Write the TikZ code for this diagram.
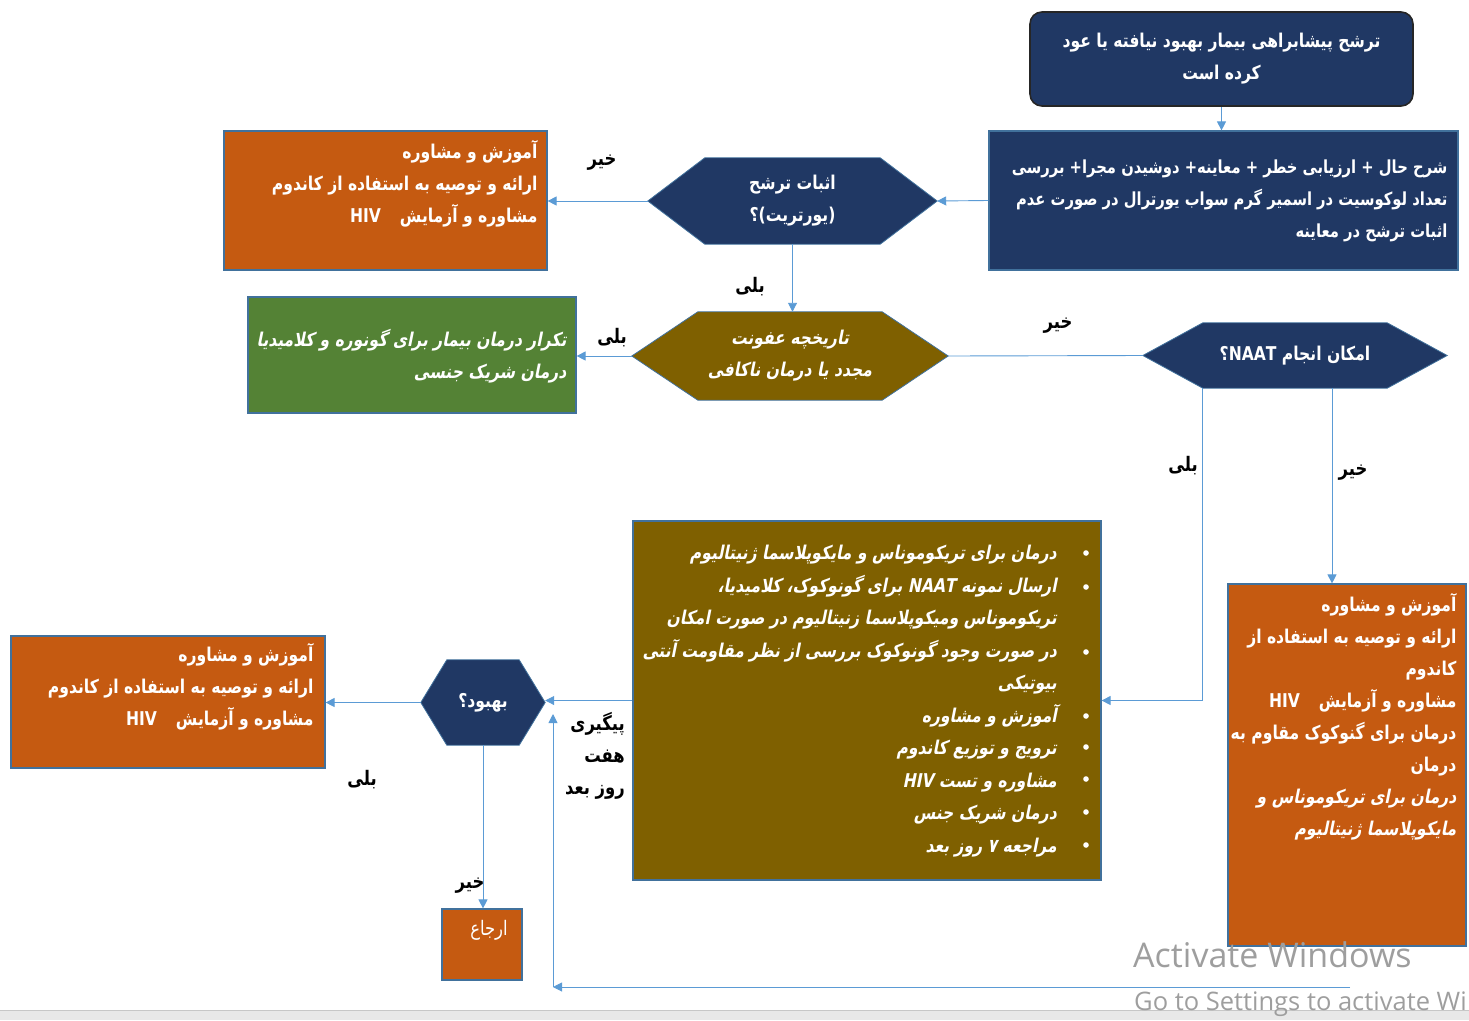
\documentclass[tikz,border=0pt]{standalone}
\usepackage{fontspec}
\usepackage{tikz}
\usetikzlibrary{positioning,calc,arrows.meta,backgrounds}
\TeXXeTstate=1
\newfontfamily\fafont[Script=Arabic,FakeStretch=0.82]{DejaVu Sans}
\newfontfamily\faslant[Script=Arabic,FakeStretch=0.82,FakeSlant=0.2]{DejaVu Sans}
\newfontfamily\wmfont{Open Sans}
\newcommand{\fa}[1]{\beginR #1\endR}
\newcommand{\lat}[1]{\beginL #1\endL{}}

\definecolor{navy}{RGB}{32,56,100}
\definecolor{rust}{RGB}{197,90,17}
\definecolor{olive}{RGB}{127,96,0}
\definecolor{leaf}{RGB}{84,130,53}
\definecolor{bordblue}{RGB}{65,113,156}
\definecolor{linkblue}{RGB}{91,155,213}

% شش‌ضلعی پشت گره (نام، عرض نوک، رنگ)
\newcommand{\hexback}[3]{%
  \filldraw[fill=#3,draw=bordblue,line width=0.8pt] (#1.west) -- ([xshift=#2]#1.north west) -- ([xshift=-#2]#1.north east)
    -- (#1.east) -- ([xshift=-#2]#1.south east) -- ([xshift=#2]#1.south west) -- cycle;}

\tikzset{
  box/.style={draw=bordblue, line width=1.2pt, inner sep=0pt},
  navybox/.style={box, fill=navy},
  rustbox/.style={box, fill=rust},
  olivebox/.style={box, fill=olive},
  leafbox/.style={box, fill=leaf},
  hexnode/.style={inner sep=0pt, text=white, align=center,
    font={\fafont\bfseries\fontsize{19}{32}\selectfont}},
  boxtext/.style={inner sep=0pt, text=white, align=right,
    font={\fafont\bfseries\fontsize{19}{32}\selectfont}},
  slanttext/.style={boxtext, font={\faslant\bfseries\fontsize{19}{32.5}\selectfont}},
  lbl/.style={inner sep=0pt, align=right, font={\fafont\bfseries\fontsize{20}{32}\selectfont}},
  arr/.style={draw=linkblue, line width=0.9pt, -{Triangle[length=9pt,width=9pt]}},
  link/.style={draw=linkblue, line width=0.9pt},
}

\begin{document}
\begin{tikzpicture}[x=1pt,y=-1pt]
  \useasboundingbox (0,0) rectangle (1469,1020);

  % جعبه‌ها
  \node[navybox, draw=black!85, line width=1.6pt, rounded corners=12pt, minimum width=383, minimum height=94,
        text=white, align=center, font={\fafont\bfseries\fontsize{19}{32}\selectfont}] (top) at (1221.5,59)
        {\fa{ترشح پیشابراهی  بیمار بهبود نیافته یا عود}\\ \fa{کرده است}};
  \node[navybox, minimum width=469, minimum height=139] (hist) at (1223.5,200.5) {};
  \node[boxtext, font={\fafont\bfseries\fontsize{18}{32}\selectfont}, anchor=east] at ([xshift=-11]hist.east)
        {\fa{شرح حال + ارزیابی خطر + معاینه+ دوشیدن مجرا+ بررسی}\\
         \fa{تعداد لوکوسیت در اسمیر گرم سواب یورترال در صورت عدم}\\
         \fa{اثبات ترشح در معاینه}};

  \node[hexnode, minimum width=289, minimum height=86] (urt) at (792.5,201)
        {\fa{اثبات ترشح}\\ \fa{(یورتریت)؟}};
  \node[rustbox, minimum width=323, minimum height=139] (edu1) at (385.5,200.5) {};
  \node[boxtext, anchor=north east] at ([shift={(-10,10)}]edu1.north east)
        {\fa{آموزش و مشاوره}\\ \fa{ارائه و توصیه به استفاده از کاندوم}\\ \fa{مشاوره و آزمایش\quad \lat{HIV}}};

  \node[hexnode, font={\faslant\bfseries\fontsize{19}{32}\selectfont}, minimum width=316, minimum height=88] (reinf) at (790,356)
        {\fa{تاریخچه عفونت}\\ \fa{مجدد یا درمان ناکافی}};
  \node[leafbox, minimum width=328, minimum height=116] (repeat) at (412,355) {};
  \node[slanttext, anchor=east] at ([shift={(-10,1)}]repeat.east)
        {\fa{تکرار درمان بیمار برای گونوره و کلامیدیا}\\ \fa{درمان شریک جنسی}};

  \node[hexnode, minimum width=304, minimum height=65] (naat) at (1295,355.5)
        {\fa{امکان انجام \lat{NAAT}؟}};

  \node[olivebox, minimum width=468, minimum height=359] (plan) at (867,700.5) {};
  \node[slanttext, anchor=north east] at (1057,545)
        {\fa{درمان برای تریکوموناس و مایکوپلاسما ژنیتالیوم}\\
         \fa{ارسال نمونه \lat{NAAT} برای گونوکوک، کلامیدیا،}\\
         \fa{تریکوموناس ومیکوپلاسما زنیتالیوم در صورت امکان}\\
         \fa{در صورت وجود گونوکوک بررسی از نظر مقاومت آنتی}\\
         \fa{بیوتیکی}\\
         \fa{آموزش و مشاوره}\\
         \fa{ترویج و توزیع کاندوم}\\
         \fa{مشاوره و تست \lat{HIV}}\\
         \fa{درمان شریک جنس}\\
         \fa{مراجعه ۷ روز بعد}};
  \foreach \by in {553,587,652,716,747,779,812,845} {
    \fill[white] (1086,\by) circle (2.8);
  }

  \node[rustbox, minimum width=238, minimum height=362] (eduR) at (1347,765) {};
  \node[boxtext, anchor=north east] at ([shift={(-10,10)}]eduR.north east)
        {\fa{آموزش و مشاوره}\\ \fa{ارائه و توصیه به استفاده از}\\ \fa{کاندوم}\\
         \fa{مشاوره و آزمایش\quad \lat{HIV}}\\ \fa{درمان برای گنوکوک مقاوم به}\\ \fa{درمان}\\
         {\faslant\fa{درمان برای تریکوموناس و}}\\ {\faslant\fa{مایکوپلاسما ژنیتالیوم}}};

  \node[hexnode, minimum width=124, minimum height=85] (better) at (483,702.5) {\fa{بهبود؟}};
  \node[rustbox, minimum width=314, minimum height=132] (eduL) at (168,702) {};
  \node[boxtext, anchor=north east] at ([shift={(-12,8)}]eduL.north east)
        {\fa{آموزش و مشاوره}\\ \fa{ارائه و توصیه به استفاده از کاندوم}\\ \fa{مشاوره و آزمایش\quad \lat{HIV}}};

  \node[rustbox, minimum width=80, minimum height=71] (refer) at (482,944.5) {};
  \node[boxtext, font={\fafont\fontsize{20}{32}\selectfont}] at (489,930) {\fa{ارجاع}};

  % شش‌ضلعی‌ها
  \begin{scope}[on background layer]
    \hexback{urt}{57pt}{navy}
    \hexback{reinf}{66pt}{olive}
    \hexback{naat}{60pt}{navy}
    \hexback{better}{26pt}{navy}
  \end{scope}

  % پیکان‌ها
  \draw[arr] (top.south) -- (top.south |- hist.north);
  \draw[arr] (hist.west) -- (urt.east);
  \draw[arr] (urt.west) -- (urt.west -| edu1.east);
  \draw[arr] (urt.south) -- (urt.south |- reinf.north);
  \draw[arr] (reinf.west) -- (reinf.west -| repeat.east);
  \draw[link] (naat.west) -- (reinf.east);
  \coordinate (naatA) at ([xshift=-93]naat.south);
  \coordinate (naatB) at ([xshift=37]naat.south);
  \draw[arr] (naatA) -- (naatA |- plan.east) -- (plan.east);
  \draw[arr] (naatB) -- (naatB |- eduR.north);
  \draw[arr] (plan.west) -- (plan.west -| better.east);
  \draw[arr] (better.west) -- (better.west -| eduL.east);
  \draw[arr] (better.south) -- (better.south |- refer.north);
  \coordinate (fuEnd) at (1350,987);
  \coordinate (fuCorner) at (553,987);
  \coordinate (fuTop) at (553,714);
  \draw[arr] (fuEnd) -- (fuCorner);
  \draw[arr] (fuCorner) -- (fuTop);

  % برچسب‌ها
  \node[lbl] at (602,163) {\fa{خیر}};
  \node[lbl] at (750,287) {\fa{بلی}};
  \node[lbl] at (612,338) {\fa{بلی}};
  \node[lbl] at (1058,326) {\fa{خیر}};
  \node[lbl] at (1183,466) {\fa{بلی}};
  \node[lbl] at (1353,473) {\fa{خیر}};
  \node[lbl, anchor=north east] at (625,712) {\fa{پیگیری}\\ \fa{هفت}\\ \fa{روز بعد}};
  \node[lbl] at (362,780) {\fa{بلی}};
  \node[lbl] at (470,886) {\fa{خیر}};

  % نوار پایین و واترمارک
  \fill[black!9] (0,1010) rectangle (1469,1020);
  \draw[black!22] (0,1010) -- (1469,1010);
  \node[anchor=west, inner sep=0pt, text=black!38, font={\wmfont\fontsize{34}{34}\selectfont}] at (1133,955) {Activate Windows};
  \node[anchor=west, inner sep=0pt, text=black!38, font={\wmfont\fontsize{25.5}{25.5}\selectfont}] at (1134,1004) {Go to Settings to activate Wi};
\end{tikzpicture}
\end{document}
